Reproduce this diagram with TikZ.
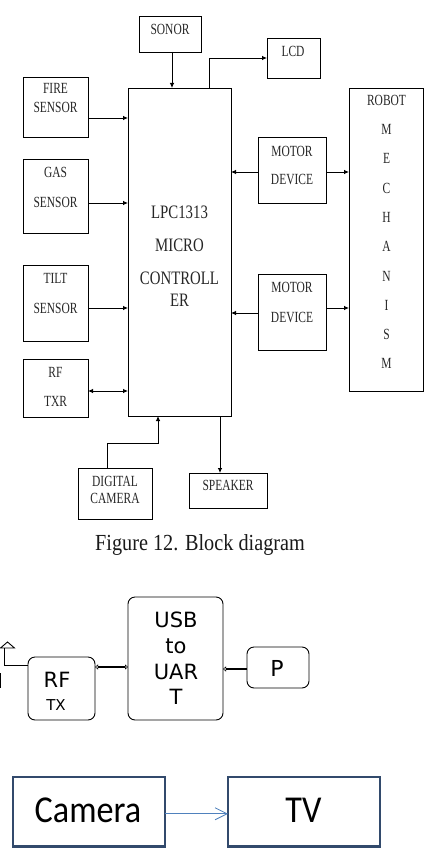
\documentclass[tikz,border=0pt]{standalone}
\usepackage{fontspec}
\setmainfont{Liberation Serif}
\newfontfamily\blockfont[FakeStretch=0.74]{Liberation Serif}
\newfontfamily\ctlfont[FakeStretch=0.78]{Liberation Serif}
\newfontfamily\capfont[FakeStretch=0.88]{Liberation Serif}
\newfontfamily\dvfont{DejaVu Sans}
\newfontfamily\clfont[FakeStretch=0.9]{Carlito}
\usetikzlibrary{arrows.meta}

\definecolor{inkgray}{HTML}{262626}
\definecolor{navyline}{HTML}{324A6C}
\definecolor{linkblue}{HTML}{4F81BD}

% box of the given style between two corners: style, name, x1, y1, x2, y2
\newcommand\blockat[6]{%
  \node[#1, minimum width={#5-#3}, minimum height={#6-#4}]
    (#2) at ({(#3+#5)/2},{(#4+#6)/2}) {};}

\tikzset{
  blk/.style={draw, line width=0.8pt, inner sep=0pt, outer sep=0pt},
  rblk/.style={draw, line width=0.9pt, rounded corners=7pt, inner sep=0pt, outer sep=0pt},
  tvblk/.style={draw=navyline, line width=2.6pt, inner sep=0pt, outer sep=0pt},
  lbl/.style={font=\blockfont\fontsize{15.5}{#1}\selectfont, align=center,
              text=inkgray, inner sep=0pt},
  lbl/.default=30,
  ctl/.style={font=\ctlfont\fontsize{19}{33}\selectfont, align=center,
              text=inkgray, inner sep=0pt},
  arr/.style={line width=0.8pt, -{Latex[length=5pt,width=4.5pt]}},
  darr/.style={line width=0.8pt, {Latex[length=5pt,width=4.5pt]}-{Latex[length=5pt,width=4.5pt]}},
  otip/.tip={Triangle[open,length=3pt,width=5pt,line width=0.5pt]},
  link/.style={line width=1.4pt},
  sans/.style={font=\dvfont\fontsize{#1}{#1}\selectfont, inner sep=0pt},
}

\begin{document}
\begin{tikzpicture}[x=1pt,y=-1pt]
\useasboundingbox (0,0) rectangle (426,848);

% ---------- block diagram of the controller ----------
\blockat{blk}{sonor}{139}{16}{201}{52}
\blockat{blk}{lcd}{267}{38}{320}{78}
\blockat{blk}{fire}{23}{77}{88}{137}
\blockat{blk}{ctrl}{128}{88}{231}{416}
\blockat{blk}{gas}{23}{159}{88}{233}
\blockat{blk}{tilt}{23}{265}{88}{341}
\blockat{blk}{rf}{23}{359}{88}{417}
\blockat{blk}{motorA}{258}{137}{326}{203}
\blockat{blk}{motorB}{258}{274}{326}{350}
\blockat{blk}{robot}{349}{88}{423}{391}
\blockat{blk}{dcam}{78}{468}{152}{519}
\blockat{blk}{speaker}{189}{473}{267}{508}

\node[lbl] (t-sonor) at (170,29) {SONOR};
\node[lbl] (t-lcd) at (293,51) {LCD};
\node[lbl={19}] (t-fire) at (55.5,98.5) {FIRE\\SENSOR};
\node[lbl] (t-gas) at (55.5,187) {GAS\\SENSOR};
\node[lbl] (t-tilt) at (55.5,293) {TILT\\SENSOR};
\node[lbl={29}] (t-rf) at (55.5,386.5) {RF\\TXR};
\node[lbl={28}] (t-mA) at (292,165) {MOTOR\\DEVICE};
\node[lbl] (t-mB) at (292,302) {MOTOR\\DEVICE};
\node[lbl={29.3}] (t-robot) at (386.5,232) {ROBOT\\M\\E\\C\\H\\A\\N\\I\\S\\M};
\node[lbl={17}] (t-dcam) at (115,489.5) {DIGITAL\\CAMERA};
\node[lbl] (t-spk) at (228,485) {SPEAKER};
\node[ctl] (t-ctrl) at (179.5,256) {LPC1313\\MICRO\\CONTROLL\\[-11pt]ER};

% connectors
\draw[arr] ([xshift=2pt]sonor.south) -- ([xshift=2pt]sonor.south |- ctrl.north);
\draw[arr] ([xshift=29.5pt]ctrl.north) |- (lcd.west);
\draw[arr] ([yshift=-11pt]fire.east) coordinate (f1) -- (f1 -| ctrl.west);
\draw[arr] ([yshift=-7pt]gas.east) coordinate (g1) -- (g1 -| ctrl.west);
\draw[arr] ([yshift=-5pt]tilt.east) coordinate (t1) -- (t1 -| ctrl.west);
\draw[darr] ([yshift=-3pt]rf.east) coordinate (r1) -- (r1 -| ctrl.west);
\draw[arr] ([yshift=-2pt]motorA.west) coordinate (ma1) -- (ma1 -| ctrl.east);
\draw[arr] ([yshift=-2pt]motorA.east) coordinate (ma2) -- (ma2 -| robot.west);
\draw[arr] ([yshift=-1pt]motorB.west) coordinate (mb1) -- (mb1 -| ctrl.east);
\draw[arr] ([yshift=4pt]motorB.east) coordinate (mb2) -- (mb2 -| robot.west);
\draw[arr] ([xshift=-8pt]dcam.north) -- ++(0,-25) -| ([xshift=-21.5pt]ctrl.south);
\coordinate (spk) at ([xshift=-8pt]speaker.north);
\draw[arr] (spk |- ctrl.south) -- (spk);

\node[font=\capfont\fontsize{23}{28}\selectfont, text=black!90, anchor=base, inner sep=0pt]
  (caption) at (200,550) {Figure 12. Block diagram};

% ---------- USB to UART link ----------
\blockat{rblk}{rftx}{28}{657}{95}{720}
\blockat{rblk}{usb}{128}{597}{223}{720}
\blockat{rblk}{pc}{247}{647}{309}{688}

\node[align=center, font=\dvfont\fontsize{21}{25.7}\selectfont, inner sep=0pt] (t-usb) at (176,658.5) {USB\\to\\UAR\\T};
\node[sans=21] (t-rf2) at (57,680) {RF};
\node[sans=15] (t-tx) at (56,705) {TX};
\node[sans=22] (t-p) at (277,668) {P};

\draw[link, {otip}-{otip}] ([yshift=21.5pt]rftx.east) coordinate (u1) -- (u1 -| usb.west);
\draw[link, -{otip}] ([yshift=-1.5pt]pc.west) coordinate (p1) -- (p1 -| usb.east);

% antenna
\coordinate (ant) at (4.5,648);
\draw[line width=0.9pt] ([yshift=23.5pt]rftx.west) -| (ant);
\draw[line width=0.9pt] (0.5,648) -- (7.5,642) -- (14.5,648) -- cycle;
\draw[line width=0.9pt] (0.5,673) -- (0.5,688);

% ---------- camera to TV ----------
\blockat{tvblk}{cam}{13}{777}{165}{846.5}
\blockat{tvblk}{tv}{228}{777}{380}{846.5}
\node[font=\clfont\fontsize{38}{40}\selectfont, inner sep=0pt] (t-cam) at (88,810) {Camera};
\node[font=\clfont\fontsize{38}{40}\selectfont, inner sep=0pt] (t-tv) at (303.5,810) {TV};
\draw[linkblue, line width=0.8pt, -{Straight Barb[length=12pt,width=12pt]}]
  ([yshift=-2pt]cam.east) coordinate (c1) -- (c1 -| tv.west);
\end{tikzpicture}
\end{document}
